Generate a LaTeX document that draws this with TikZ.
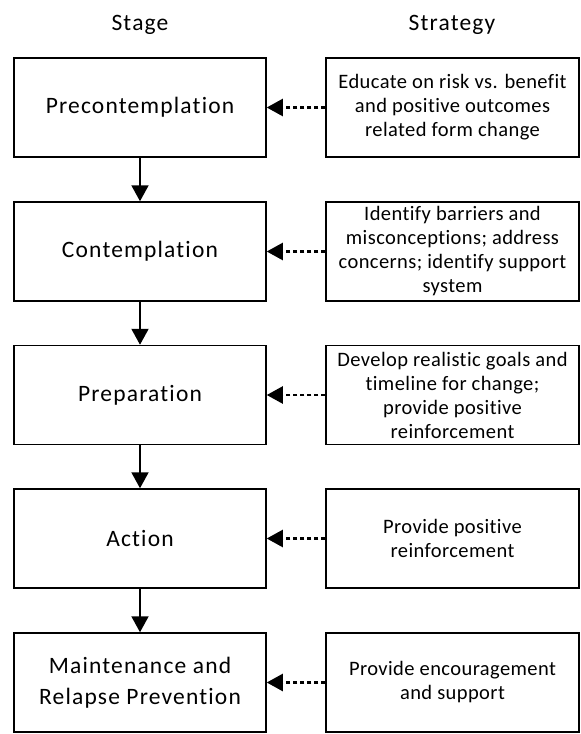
\documentclass[tikz,border=0pt]{standalone}
\usepackage{fontspec}
\setmainfont[Ligatures=NoCommon, LetterSpace=5]{Carlito}
\newfontfamily\stratfont[Ligatures=NoCommon, LetterSpace=2]{Carlito}
\usetikzlibrary{arrows.meta}
\begin{document}
\begin{tikzpicture}[x=1pt,y=-1pt,
  stagebox/.style={draw, line width=1.5pt, minimum width=252pt, minimum height=99pt, inner sep=0pt, align=center, font=\fontsize{23.5}{31.5}\selectfont},
  stratbox/.style={draw, line width=1.5pt, minimum width=253pt, minimum height=99pt, inner sep=0pt, align=center, font=\stratfont\fontsize{20.5}{24}\selectfont},
  header/.style={anchor=base, font=\fontsize{23.5}{28}\selectfont},
  flow/.style={line width=2pt, -{Triangle[length=16pt,width=17pt]}},
  hint/.style={line width=2.2pt, dash pattern=on 4.5pt off 2.5pt, -{Triangle[length=16pt,width=17pt]}}]
\useasboundingbox (0,0) rectangle (581,734);
\node[header] (hstage) at (140,30) {Stage};
\node[header] (hstrat) at (452,30) {Strategy};
\node[stagebox] (s1) at (140,107.5) {Precontemplation};
\node[stagebox] (s2) at (140,251.5) {Contemplation};
\node[stagebox] (s3) at (140,395) {Preparation};
\node[stagebox] (s4) at (140,538.5) {Action};
\node[stagebox] (s5) at (140,682.5) {Maintenance and\\Relapse Prevention};
\node[stratbox] (t1) at (452.5,107.5) {Educate on risk vs. benefit\\and positive outcomes\\related form change};
\node[stratbox] (t2) at (452.5,251.5) {Identify barriers and\\misconceptions; address\\concerns; identify support\\system};
\node[stratbox] (t3) at (452.5,395) {Develop realistic goals and\\timeline for change;\\provide positive\\reinforcement};
\node[stratbox] (t4) at (452.5,538.5) {Provide positive\\reinforcement};
\node[stratbox] (t5) at (452.5,682.5) {Provide encouragement\\and support};
\foreach \a/\b in {s1/s2,s2/s3,s3/s4,s4/s5} \draw[flow] (\a) -- (\b);
\foreach \i in {1,...,5} \draw[hint] (t\i) -- (s\i);
\end{tikzpicture}
\end{document}
